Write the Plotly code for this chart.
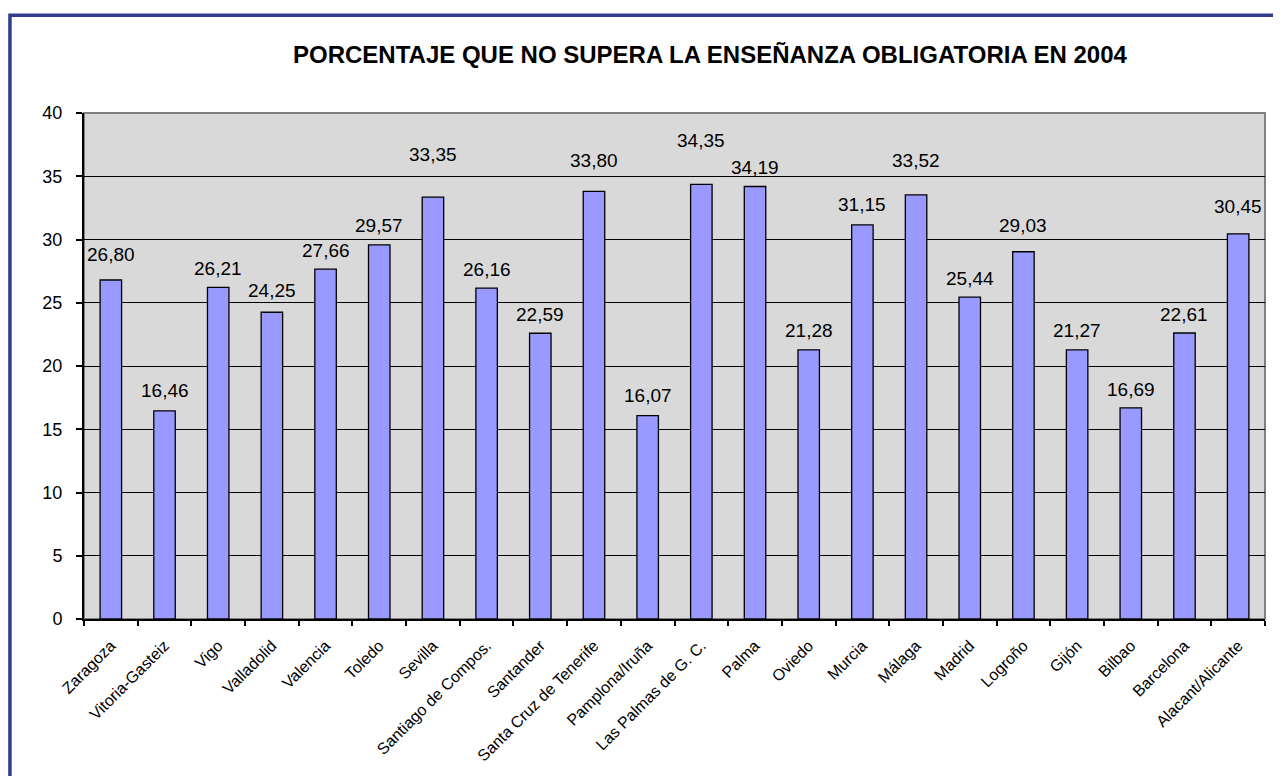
import plotly.graph_objects as go

cities = ["Zaragoza", "Vitoria-Gasteiz", "Vigo", "Valladolid", "Valencia", "Toledo",
          "Sevilla", "Santiago de Compos.", "Santander", "Santa Cruz de Tenerife",
          "Pamplona/Iruña", "Las Palmas de G. C.", "Palma", "Oviedo", "Murcia",
          "Málaga", "Madrid", "Logroño", "Gijón", "Bilbao", "Barcelona",
          "Alacant/Alicante"]
values = [26.80, 16.46, 26.21, 24.25, 27.66, 29.57, 33.35, 26.16, 22.59, 33.80,
          16.07, 34.35, 34.19, 21.28, 31.15, 33.52, 25.44, 29.03, 21.27, 16.69,
          22.61, 30.45]
y_ticks = [0, 5, 10, 15, 20, 25, 30, 35, 40]
title = "PORCENTAJE QUE NO SUPERA LA ENSEÑANZA OBLIGATORIA EN 2004"

# styling: vertical lift (px) of each data label above its bar top
label_lift = [25, 20, 19, 22, 19, 19, 43, 19, 19, 31, 20, 44, 19, 19, 20, 34,
              19, 26, 19, 18, 18, 27]

FONT = "Liberation Sans, Arial, sans-serif"

fig = go.Figure()
fig.add_trace(go.Bar(
    x=cities, y=values,
    marker=dict(color="#9999ff", line=dict(color="black", width=1.3)),
    hoverinfo="x+y",
))

for c, v, lift in zip(cities, values, label_lift):
    fig.add_annotation(x=c, y=v, xref="x", yref="y",
                       text=f"{v:.2f}".replace(".", ","),
                       showarrow=False, yanchor="middle", yshift=lift,
                       font=dict(family=FONT, size=19, color="black"))

fig.add_annotation(x=0.5303, y=1.1149, xref="paper", yref="paper",
                   text=f"<b>{title}</b>", showarrow=False,
                   xanchor="center", yanchor="middle",
                   font=dict(family=FONT, size=24, color="black"))

# gray plot-area frame (top/right)
fig.add_shape(type="rect", xref="paper", yref="paper", x0=0, x1=1, y0=0, y1=1,
              line=dict(color="#808080", width=2), layer="below")
# outer blue frame (left/top visible)
fig.add_shape(type="rect", xref="paper", yref="paper",
              x0=-0.0627, x1=1.2, y0=-0.6, y1=1.1931,
              line=dict(color="#333b8f", width=3.5))

fig.update_layout(
    width=1273, height=768,
    margin=dict(l=76, r=16, t=105, b=150),
    paper_bgcolor="white", plot_bgcolor="#d9d9d9",
    bargap=0.6, showlegend=False,
    font=dict(family=FONT, color="black"),
)
fig.update_xaxes(
    type="category", tickangle=-45, tickson="boundaries",
    ticks="outside", ticklen=5, tickcolor="black", tickwidth=1.5,
    showline=True, linecolor="black", linewidth=2,
    tickfont=dict(family=FONT, size=16, color="black"),
    ticklabelstandoff=9, showgrid=False,
)
fig.update_yaxes(
    range=[0, 40], tickvals=y_ticks, ticktext=[str(t) for t in y_ticks],
    ticks="outside", ticklen=6, tickcolor="black", tickwidth=1.5,
    showline=True, linecolor="black", linewidth=2,
    showgrid=True, gridcolor="black", gridwidth=1.3,
    zeroline=False,
    tickfont=dict(family=FONT, size=18, color="black"),
    ticklabelstandoff=10,
)

fig.write_html("out.html")
